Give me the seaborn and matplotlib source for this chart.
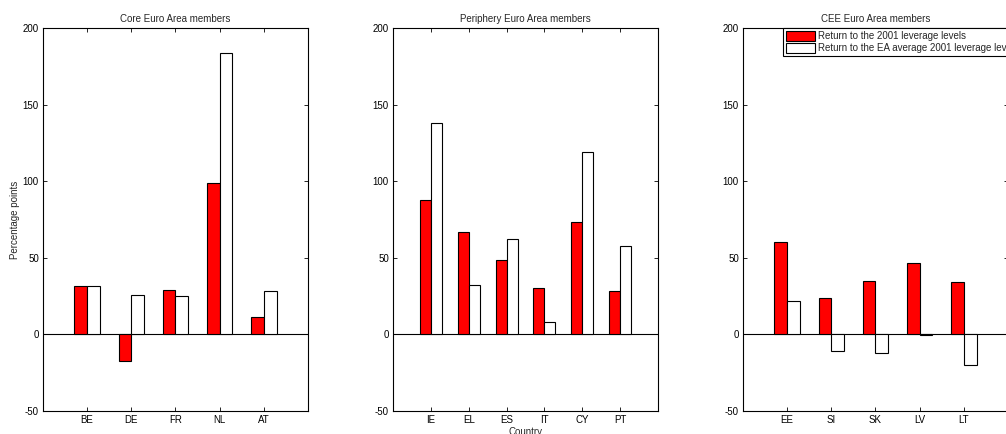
import numpy as np
import pandas as pd
import matplotlib
matplotlib.use("Agg")
import matplotlib.pyplot as plt
import seaborn as sns
from matplotlib.patches import Patch

sns.set_theme(style="white")
plt.rcParams['font.family'] = ['Liberation Sans', 'DejaVu Sans']

series_names = ["Return to the 2001 leverage levels",
                "Return to the EA average 2001 leverage levels"]

core_countries = ["BE", "DE", "FR", "NL", "AT"]
core_own = [31.4, -17.2, 29.0, 98.7, 11.5]
core_ea = [31.4, 25.5, 25.1, 183.7, 28.1]

peri_countries = ["IE", "EL", "ES", "IT", "CY", "PT"]
peri_own = [87.8, 66.7, 48.8, 30.1, 73.2, 28.1]
peri_ea = [137.7, 32.0, 62.3, 8.1, 119.0, 57.7]

cee_countries = ["EE", "SI", "SK", "LV", "LT"]
cee_own = [60.1, 23.5, 35.1, 46.6, 34.4]
cee_ea = [21.8, -10.7, -12.4, -0.7, -19.8]

titles = ["Core Euro Area members", "Periphery Euro Area members", "CEE Euro Area members"]
yticks = [-50, 0, 50, 100, 150, 200]

panels = [(core_countries, core_own, core_ea),
          (peri_countries, peri_own, peri_ea),
          (cee_countries, cee_own, cee_ea)]

W, H = 1006, 434
fig = plt.figure(figsize=(W / 100, H / 100), dpi=100)
lefts = [43, 393, 743]
ax_w, ax_top, ax_bot = 265, 28, 411

palette = {series_names[0]: "#ff0000", series_names[1]: "#ffffff"}
fs = 7

for i, (countries, own, ea) in enumerate(panels):
    ax = fig.add_axes([lefts[i] / W, (H - ax_bot) / H, ax_w / W, (ax_bot - ax_top) / H])
    df = pd.DataFrame({
        "Country": countries * 2,
        "value": list(own) + list(ea),
        "series": [series_names[0]] * len(countries) + [series_names[1]] * len(countries),
    })
    sns.barplot(data=df, x="Country", y="value", hue="series", order=countries,
                hue_order=series_names, palette=palette, width=0.58,
                edgecolor="black", linewidth=0.8, ax=ax, legend=False, saturation=1)
    n = len(countries)
    ax.set_xlim(-1, n)
    ax.set_ylim(-50, 200)
    ax.set_yticks(yticks)
    ax.set_yticklabels([str(t) for t in yticks])
    ax.axhline(0, color="black", lw=0.8, zorder=0.5)
    ax.set_title(titles[i], fontsize=fs, pad=4)
    ax.tick_params(direction="in", length=3, width=0.6, labelsize=fs,
                   top=True, right=True, bottom=True, left=True, pad=3, colors="black")
    for s in ax.spines.values():
        s.set_visible(True)
        s.set_color("black")
        s.set_linewidth(0.8)
    ax.set_ylabel("Percentage points" if i == 0 else "", fontsize=fs, labelpad=2)
    ax.set_xlabel("Country" if i == 1 else "", fontsize=fs, labelpad=1)
    if i == 2:
        handles = [Patch(facecolor="#ff0000", edgecolor="black", lw=0.8),
                   Patch(facecolor="white", edgecolor="black", lw=0.8)]
        leg = ax.legend(handles, series_names, loc="upper left",
                        bbox_to_anchor=(0.15, 1.0), fontsize=fs, frameon=True,
                        fancybox=False, framealpha=1, edgecolor="black",
                        borderpad=0.3, handlelength=3.0, handleheight=1.2,
                        labelspacing=0.15, handletextpad=0.35, borderaxespad=0)
        leg.get_frame().set_linewidth(0.8)

fig.savefig("out.png", dpi=100)
